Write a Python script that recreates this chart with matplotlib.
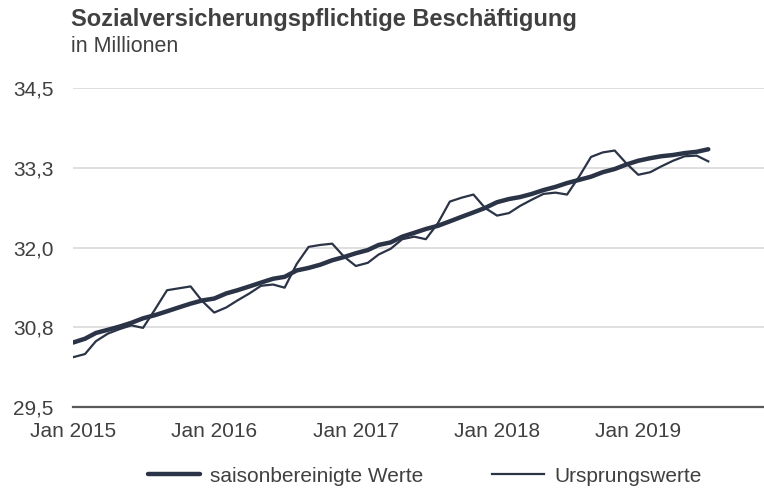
import numpy as np
import pandas as pd
import matplotlib
matplotlib.use("Agg")
import matplotlib.pyplot as plt
import matplotlib.dates as mdates

plt.rcParams['font.family'] = ['Liberation Sans', 'DejaVu Sans']

# monthly values, Jan 2015 - Jul 2019 (in Mio.)
months = pd.date_range("2015-01-01", periods=55, freq="MS")

saisonbereinigt = [
    30.51, 30.57, 30.66, 30.71, 30.76, 30.82, 30.89, 30.94, 31.00, 31.06, 31.12, 31.17,
    31.20, 31.28, 31.33, 31.39, 31.45, 31.51, 31.54, 31.64, 31.68, 31.73, 31.80, 31.85,
    31.91, 31.96, 32.04, 32.08, 32.17, 32.23, 32.29, 32.34, 32.41, 32.48, 32.55, 32.62,
    32.71, 32.76, 32.79, 32.84, 32.90, 32.95, 33.01, 33.06, 33.11, 33.18, 33.23, 33.30,
    33.36, 33.40, 33.43, 33.45, 33.48, 33.50, 33.54,
]
ursprung = [
    30.28, 30.33, 30.53, 30.65, 30.72, 30.78, 30.74, 31.03, 31.33, 31.36, 31.39, 31.16,
    30.98, 31.06, 31.17, 31.28, 31.40, 31.42, 31.37, 31.74, 32.01, 32.04, 32.06, 31.86,
    31.71, 31.76, 31.89, 31.98, 32.13, 32.17, 32.13, 32.38, 32.72, 32.78, 32.83, 32.62,
    32.50, 32.54, 32.65, 32.75, 32.84, 32.86, 32.83, 33.11, 33.42, 33.49, 33.52, 33.32,
    33.14, 33.18, 33.27, 33.36, 33.43, 33.44, 33.35,
]

yticks = [29.5, 30.75, 32.0, 33.25, 34.5]
ytick_labels = ["29,5", "30,8", "32,0", "33,3", "34,5"]
xtick_years = [2015, 2016, 2017, 2018, 2019]

navy = "#2b3447"
grey_txt = "#404040"

fig = plt.figure(figsize=(7.64, 4.88), dpi=100)
ax = fig.add_axes([73 / 764, 81 / 488, 691 / 764, 319 / 488])

ax.plot(months, saisonbereinigt, color=navy, lw=3.2, solid_capstyle="round",
        label="saisonbereinigte Werte", zorder=3)
ax.plot(months, ursprung, color=navy, lw=1.6, label="Ursprungswerte", zorder=3)

x0 = pd.Timestamp("2015-01-01")
ax.set_xlim(x0, x0 + pd.Timedelta(days=1786))
ax.set_ylim(29.5, 34.5)

ax.set_yticks(yticks)
ax.set_yticklabels(ytick_labels)
ax.set_xticks([pd.Timestamp(f"{y}-01-01") for y in xtick_years])
ax.set_xticklabels([f"Jan {y}" for y in xtick_years])

ax.grid(axis="y", color="#d9d9d9", lw=1.2, zorder=0)
for s in ["top", "right", "left"]:
    ax.spines[s].set_visible(False)
ax.spines["bottom"].set_color("#595959")
ax.spines["bottom"].set_linewidth(1.6)
ax.spines["bottom"].set_zorder(4)
ax.tick_params(axis="both", length=0, labelsize=15, colors=grey_txt)
ax.tick_params(axis="y", pad=14)
ax.tick_params(axis="x", pad=11)

fig.text(71 / 764, 1 - 26 / 488, "Sozialversicherungspflichtige Beschäftigung",
         fontsize=17, fontweight="bold", color=grey_txt, va="baseline")
fig.text(71 / 764, 1 - 52 / 488, "in Millionen", fontsize=15.5,
         color=grey_txt, va="baseline")

fig.legend(loc="center", bbox_to_anchor=(425 / 764, 1 - 476 / 488), ncol=2,
           frameon=False, fontsize=15, handlelength=2.5, columnspacing=3.3,
           handletextpad=0.5, labelcolor=grey_txt)

fig.savefig("out.png", dpi=100)
